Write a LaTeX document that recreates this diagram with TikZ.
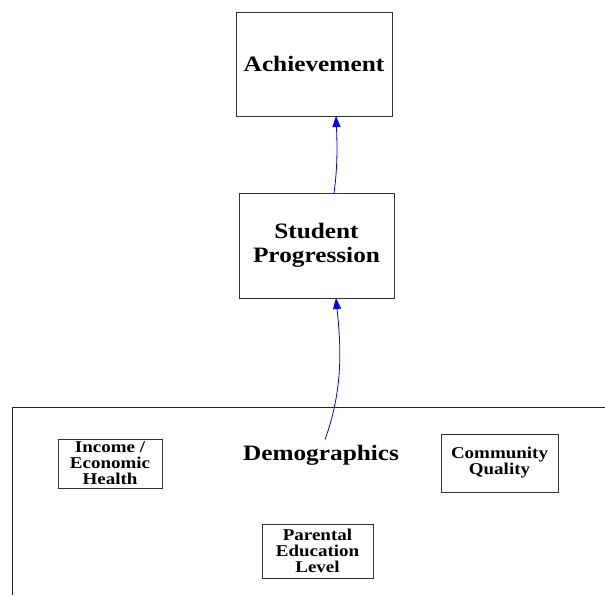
\documentclass[tikz,border=0pt]{standalone}
\usepackage{fontspec}
\newfontfamily\vizfont{Liberation Serif}[FakeStretch=1.15]
\usetikzlibrary{arrows.meta}

\begin{document}
\begin{tikzpicture}[x=1pt, y=-1pt,
    box/.style={rectangle, draw=black!80, line width=0.8pt, align=center, outer sep=0pt, inner sep=0pt,
                font=\vizfont\bfseries\fontsize{22}{24}\selectfont},
    small box/.style={box, font=\vizfont\bfseries\fontsize{16.5}{16}\selectfont},
    arrow/.style={-{Triangle[length=11pt, width=8pt]}, blue, line width=0.8pt},
]
    \useasboundingbox (0,0) rectangle (605,595);

    % Demographics cluster
    \draw[black!85, line width=0.8pt] (12,595) |- (605,407);
    \node[font=\vizfont\bfseries\fontsize{22}{24}\selectfont, anchor=base, inner sep=5pt] (demo) at (321,460) {Demographics};

    % Achievement
    \node[box, minimum width=156pt, minimum height=104pt] (ach) at (314,64) {Achievement};

    % Student progression
    \node[box, minimum width=155pt, minimum height=105pt] (prog) at (316.5,245.5) {Student\\Progression};

    % Demographic factors
    \node[small box, minimum width=104pt, minimum height=49pt] (income) at (110,463.5) {Income /\\Economic\\Health};
    \node[small box, minimum width=117pt, minimum height=58pt] (community) at (499.5,463) {Community\\Quality};
    \node[small box, minimum width=111pt, minimum height=54pt] (parent) at (317.5,551) {Parental\\Education\\Level};

    % Arrows
    \draw[arrow] ([xshift=4pt]demo.north) .. controls +(20,-55) and +(4,41) .. ([xshift=19.5pt]prog.south);
    \draw[arrow] ([xshift=17.5pt]prog.north) .. controls +(4,-28) and +(1,24) .. ([xshift=22pt]ach.south);
\end{tikzpicture}
\end{document}
